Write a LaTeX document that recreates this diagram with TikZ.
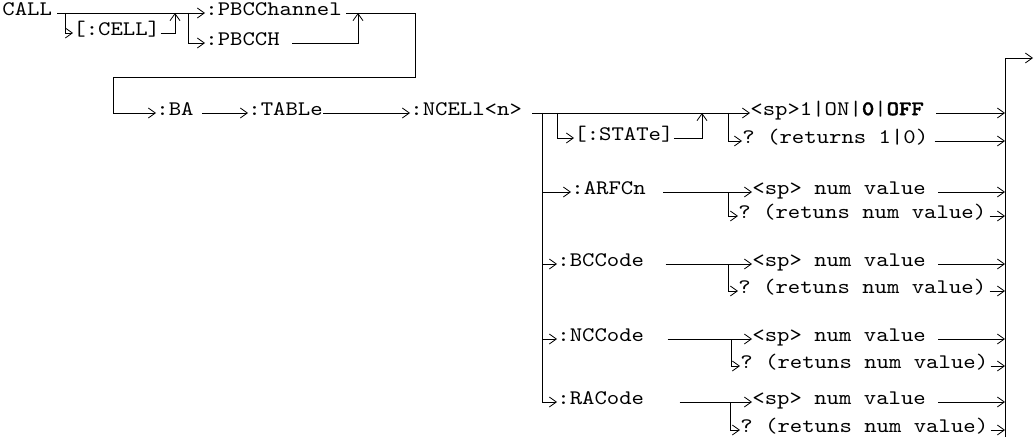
\documentclass[tikz,border=0pt]{standalone}
\usepackage{fontspec}
\setmonofont{lmmono10-regular}[Extension=.otf, UprightFont=lmmono10-regular, BoldFont=lmmonolt10-bold, BoldFeatures={FakeBold=1.6}, FakeStretch=1.14]
\usetikzlibrary{arrows.meta}
\newcommand\lblfont{\ttfamily\fontsize{20.7}{24}\selectfont}
\begin{document}
\begin{tikzpicture}[x=1pt,y=-1pt,line width=0.8pt,
  lbl/.style={font=\lblfont, inner sep=0pt, anchor=mid west},
  arr/.style={-{Straight Barb[length=7pt,width=10pt]}}]
\useasboundingbox (0,0) rectangle (1035,441);
% ---- top part
\node[lbl] (call) at (2,13) {CALL};
\node[lbl] (cell) at (73,33) {[:CELL]};
\node[lbl] (pbcchannel) at (205,13) {:PBCChannel};
\node[lbl] (pbcch) at (205,43) {:PBCCH};
\coordinate (c1) at (65,13);
\coordinate (c2) at (175,13);
\coordinate (c3) at (188,13);
\coordinate (c4) at (358,13);
\coordinate (c5) at (415,13);
\coordinate (c6) at (415,77);
\coordinate (c7) at (113,77);
% ---- second row
\node[lbl] (ba) at (156,113) {:BA};
\node[lbl] (table) at (248,113) {:TABLe};
\node[lbl] (ncell) at (410,113) {:NCELl<n>};
% ---- right part
\node[lbl] (state) at (574,138) {[:STATe]};
\node[lbl] (sp1) at (750,113) {<sp>1|ON|{\bfseries 0}|{\bfseries OFF}};
\node[lbl] (ret1) at (742,141) {? (returns 1|0)};
\node[lbl] (arfcn) at (571,192) {:ARFCn};
\node[lbl] (arfsp) at (752,192) {<sp> num value};
\node[lbl] (arfq) at (738,216) {? (retuns num value)};
\node[lbl] (bcc) at (557,264) {:BCCode};
\node[lbl] (bccsp) at (752,264) {<sp> num value};
\node[lbl] (bccq) at (738,291) {? (retuns num value)};
\node[lbl] (ncc) at (557,339) {:NCCode};
\node[lbl] (nccsp) at (752,339) {<sp> num value};
\node[lbl] (nccq) at (740,366) {? (retuns num value)};
\node[lbl] (rac) at (557,402) {:RACode};
\node[lbl] (racsp) at (752,402) {<sp> num value};
\node[lbl] (racq) at (740,430) {? (retuns num value)};
\coordinate (j0) at (542,113);
\coordinate (ja) at (542,192);
\coordinate (jb) at (542,264);
\coordinate (jn) at (542,339);
\coordinate (s0) at (557,113);
\coordinate (s1) at (702,113);
\coordinate (s2) at (728,113);
\coordinate (ka) at (728,192);
\coordinate (kb) at (728,264);
\coordinate (kn) at (731,339);
\coordinate (kr) at (730,402);
\coordinate (R1) at (1005,113);
\coordinate (R2) at (1005,141);
\coordinate (Ra) at (1005,192);
\coordinate (Raq) at (1005,216);
\coordinate (Rb) at (1005,264);
\coordinate (Rbq) at (1005,291);
\coordinate (Rn) at (1005,339);
\coordinate (Rnq) at (1005,366);
\coordinate (Rr) at (1005,402);
\coordinate (Rrq) at (1005,430);
\coordinate (Rbot) at (1005,437);
\coordinate (Rtop) at (1005,58);
\coordinate (Rx) at (1033,58);
% ---- connectors top
\draw[arr] ([xshift=5pt]call.mid east) -- (pbcchannel.mid west);
\draw[arr] (c1) |- (cell.mid west);
\draw[arr] (cell.mid east) -| (c2);
\draw[arr] (c3) |- (pbcch.mid west);
\draw[arr] ([xshift=12pt]pbcch.mid east) -| (c4);
\draw[arr] ([xshift=4pt]pbcchannel.mid east) -- (c5) -- (c6) -- (c7) |- (ba.mid west);
\draw[arr] ([xshift=8pt]ba.mid east) -- (table.mid west);
\draw[arr] (table.mid east) -- (ncell.mid west);
% ---- NCELl branches
\draw[arr] ([xshift=10pt]ncell.mid east) -- (sp1.mid west);
\draw[arr] (j0) |- (rac.mid west);
\draw[arr] (ja) -- (arfcn.mid west);
\draw[arr] (jb) -- (bcc.mid west);
\draw[arr] (jn) -- (ncc.mid west);
\draw[arr] (s0) |- (state.mid west);
\draw[arr] (state.mid east) -| (s1);
\draw[arr] (s2) |- (ret1.mid west);
\draw[arr] ([xshift=12pt]sp1.mid east) -- (R1);
\draw[arr] ([xshift=6pt]ret1.mid east) -- (R2);
% ARFCn
\draw[arr] ([xshift=17pt]arfcn.mid east) -- (arfsp.mid west);
\draw[arr] (ka) |- (arfq.mid west);
\draw[arr] ([xshift=12pt]arfsp.mid east) -- (Ra);
\draw[arr] ([xshift=3pt]arfq.mid east) -- (Raq);
% BCCode
\draw[arr] ([xshift=21pt]bcc.mid east) -- (bccsp.mid west);
\draw[arr] (kb) |- (bccq.mid west);
\draw[arr] ([xshift=12pt]bccsp.mid east) -- (Rb);
\draw[arr] ([xshift=3pt]bccq.mid east) -- (Rbq);
% NCCode
\draw[arr] ([xshift=23pt]ncc.mid east) -- (nccsp.mid west);
\draw[arr] (kn) |- (nccq.mid west);
\draw[arr] ([xshift=12pt]nccsp.mid east) -- (Rn);
\draw[arr] ([xshift=2pt]nccq.mid east) -- (Rnq);
% RACode
\draw[arr] ([xshift=35pt]rac.mid east) -- (racsp.mid west);
\draw[arr] (kr) |- (racq.mid west);
\draw[arr] ([xshift=12pt]racsp.mid east) -- (Rr);
\draw[arr] ([xshift=2pt]racq.mid east) -- (Rrq);
% right spine and exit
\draw[arr] (Rbot) -- (Rtop) -- (Rx);
\end{tikzpicture}
\end{document}
